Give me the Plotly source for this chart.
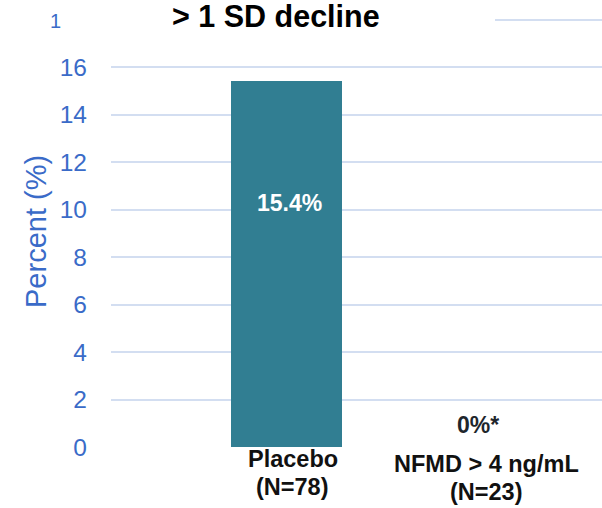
import plotly.graph_objects as go

# ---- data ----
categories = ["Placebo", "NFMD > 4 ng/mL"]
cat_line1 = ["Placebo", "NFMD > 4 ng/mL"]
cat_line2 = ["(N=78)", "(N=23)"]
values = [15.4, 0.0]
value_labels = ["15.4%", "0%*"]
y_ticks = [0, 2, 4, 6, 8, 10, 12, 14, 16, 18]
y_ticktext = ["0", "2", "4", "6", "8", "10", "12", "14", "16", ""]
title_text = "&gt; 1 SD decline"
y_title = "Percent (%)"

FONT = "Arial, Liberation Sans, sans-serif"
BLUE = "#3A6BC8"
BAR = "#317E92"
GRID = "#D3DEF1"

W, H = 602, 508
L, R, T, B = 111, 0, 8, 61
pw, ph = W - L - R, H - T - B

def px_x(px):
    return (px - L) / pw

def px_y(py):
    return (H - B - py) / ph

xs = list(range(len(categories)))

fig = go.Figure()
fig.add_trace(go.Bar(
    x=xs, y=values, width=0.574,
    marker=dict(color=BAR, line=dict(width=0)),
    hoverinfo="skip", showlegend=False,
))

annotations = []
# value labels
annotations.append(dict(x=xs[0], y=values[0] * 2 / 3, xref="x", yref="y",
                        text="<b>%s</b>" % value_labels[0], showarrow=False,
                        xshift=2.5, xanchor="center",
                        font=dict(family=FONT, size=23, color="white")))
annotations.append(dict(x=xs[1], y=values[1], xref="x", yref="y",
                        text="<b>%s</b>" % value_labels[1], showarrow=False,
                        xshift=-2.5, yshift=22, yanchor="middle", xanchor="center",
                        font=dict(family=FONT, size=23, color="#1E262C")))
# category labels
shifts1 = [0, -5]
for i, x in enumerate(xs):
    annotations.append(dict(x=x, y=0, xref="x", yref="paper", yanchor="top",
                            xanchor="center",
                            text="<b>%s</b>" % cat_line1[i], showarrow=False,
                            xshift=6, yshift=3 + shifts1[i],
                            font=dict(family=FONT, size=23.5, color="#111111")))
    annotations.append(dict(x=x, y=0, xref="x", yref="paper", yanchor="top",
                            xanchor="center",
                            text="<b>%s</b>" % cat_line2[i], showarrow=False,
                            xshift=6, yshift=3 + shifts1[i] - 28,
                            font=dict(family=FONT, size=23.5, color="#111111")))
# axis title
annotations.append(dict(x=px_x(36), y=px_y(232), xref="paper", yref="paper",
                        xanchor="center", yanchor="middle",
                        text=y_title, textangle=-90, showarrow=False,
                        font=dict(family=FONT, size=29, color=BLUE)))
# chart title
annotations.append(dict(x=px_x(276), y=px_y(16), xref="paper", yref="paper",
                        text="<b>%s</b>" % title_text, showarrow=False,
                        xanchor="center", yanchor="middle",
                        font=dict(family=FONT, size=30.5, color="black")))
# clipped fragment at top-left
annotations.append(dict(x=px_x(55), y=px_y(21), xref="paper", yref="paper",
                        xanchor="center", yanchor="middle",
                        text="1", showarrow=False,
                        font=dict(family=FONT, size=20, color=BLUE)))

fig.update_layout(
    width=W, height=H,
    margin=dict(l=L, r=R, t=T, b=B, pad=0),
    paper_bgcolor="white", plot_bgcolor="white",
    bargap=0,
    annotations=annotations,
    shapes=[dict(type="rect", xref="paper", yref="paper",
                 x0=px_x(58), x1=px_x(495), y0=px_y(30), y1=px_y(-5),
                 fillcolor="white", line=dict(width=0), layer="above")],
    xaxis=dict(range=[(L - 286.5) / 193.5, (W - R - 286.5) / 193.5],
               showticklabels=False, showgrid=False, zeroline=False,
               showline=False, fixedrange=True),
    yaxis=dict(range=[0, (H - B - T) / 23.75], tickvals=y_ticks,
               ticktext=y_ticktext, showgrid=True, gridcolor=GRID,
               gridwidth=1.5, zeroline=False, showline=False,
               ticks="", ticklabelstandoff=23, fixedrange=True,
               tickfont=dict(family=FONT, size=24.5, color=BLUE)),
)

fig.write_html("out.html", config={"displayModeBar": False},
               post_script="document.body.style.margin='0';document.body.style.overflow='hidden';")
